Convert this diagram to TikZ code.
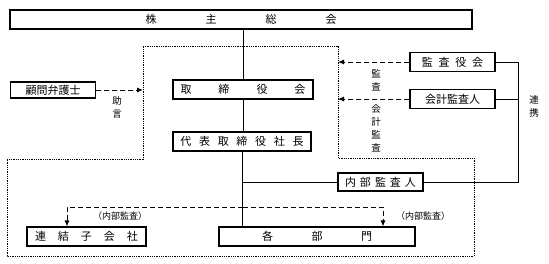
\documentclass[tikz,border=0pt]{standalone}
\usepackage{fontspec}
\setmainfont{Noto Sans CJK JP}
\usetikzlibrary{arrows.meta}
\tikzset{
  orgbox/.style={draw, line width=1.1pt, fill=white, minimum height=19pt, inner sep=0pt, font=\fontsize{11}{13}\selectfont},
  link/.style={line width=0.9pt},
  dasharrow/.style={line width=0.9pt, dash pattern=on 5pt off 3pt, -{Latex[length=6pt,width=5pt]}},
  scopeline/.style={line width=0.9pt, dash pattern=on 0.9pt off 0.9pt},
  note/.style={font=\fontsize{9.5}{13}\selectfont, inner sep=0pt, align=center}
}
\newcommand{\gap}[1]{\hspace{#1pt}}

\begin{document}
\begin{tikzpicture}[x=1pt, y=-1pt]
  \useasboundingbox (0,0) rectangle (549,263);
  % area of the audit, dotted
  \draw[scopeline] (143,46) -- (338,46) -- (338,158) -- (474,158) -- (474,256)
    -- (7,256) -- (7,159) -- (143,159) -- cycle;
  \coordinate (edgeL) at (143,0);
  \coordinate (edgeR) at (338,0);
  \coordinate (rk) at (518,0);
  \coordinate (naibuA) at (243,207);

  % boxes
  \node[orgbox, minimum width=462pt] (kabunushi) at (241,19.5)
    {株\gap{49}主\gap{49}総\gap{49}会};
  \node[orgbox, minimum width=140pt] (torishimari) at (243,89.5)
    {取\gap{27}締\gap{27}役\gap{27}会};
  \node[orgbox, minimum width=138pt] (shacho) at (242,141.5)
    {代\gap{7.7}表\gap{7.7}取\gap{7.7}締\gap{7.7}役\gap{7.7}社\gap{7.7}長};
  \node[orgbox, minimum width=85pt, minimum height=16pt] (komon) at (53,90)
    {顧問弁護士};
  \node[orgbox, minimum width=85pt] (kansayaku) at (452.5,62)
    {監\gap{5.7}査\gap{5.7}役\gap{5.7}会};
  \node[orgbox, minimum width=85pt] (kaikei) at (452.5,99)
    {会計監査人};
  \node[orgbox, minimum width=85pt, minimum height=18pt] (naibu) at (380.5,182)
    {内\gap{4}部\gap{4}監\gap{4}査\gap{4}人};
  \node[orgbox, minimum width=119pt] (renketsu) at (86.5,236.5)
    {連\gap{12}結\gap{12}子\gap{12}会\gap{12}社};
  \node[orgbox, minimum width=196pt] (bumon) at (317,236.5)
    {各\gap{38.5}部\gap{38.5}門};

  % solid lines
  \draw[link] (kabunushi.south -| torishimari.north) -- (torishimari.north);
  \draw[link] (torishimari.south) -- (shacho.north -| torishimari.south);
  \draw[link] (shacho.south) -- (shacho.south |- bumon.north);
  \draw[link] (shacho.south |- naibu.west) -- (naibu.west);
  \draw[link] (kansayaku.east) -- (kansayaku.east -| rk) |- (naibu.east);
  \draw[link] (kaikei.east) -- (kaikei.east -| rk);

  % dashed arrows
  \draw[dasharrow] (komon.east) -- (komon.east -| edgeL);
  \draw[dasharrow] (kansayaku.west) -- (kansayaku.west -| edgeR);
  \draw[dasharrow] (kaikei.west) -- (kaikei.west -| edgeR);
  \draw[dasharrow] (naibuA) -| ([xshift=-19.5pt]renketsu.north);
  \draw[dasharrow] (naibuA) -| ([xshift=66pt]bumon.north);

  % labels
  \node[note] (jogen) at (117,107) {助\\言};
  \node[note] (kansa) at (376,80.5) {監\\査};
  \node[note] (kaikeikansa) at (376,128) {会\\計\\監\\査};
  \node[note] (renkei) at (534,106.5) {連\\携};
  \node[note, font=\fontsize{9}{11}\selectfont] (naibuL) at (120,216) {（内部監査）};
  \node[note, font=\fontsize{9}{11}\selectfont] (naibuR) at (423,216) {（内部監査）};
\end{tikzpicture}
\end{document}
